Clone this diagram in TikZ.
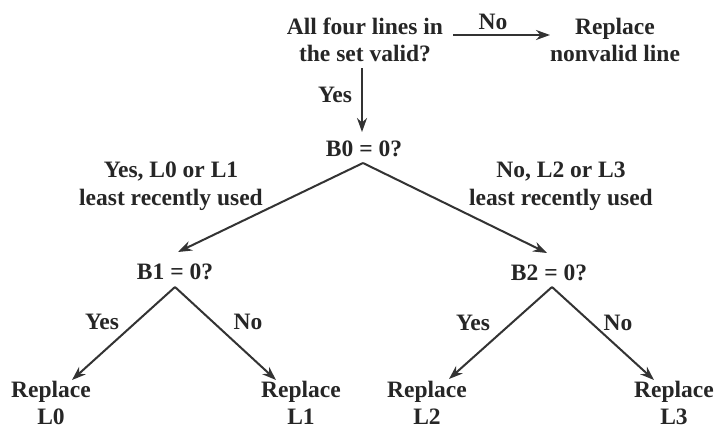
\documentclass[tikz,border=0pt]{standalone}
\usepackage{fontspec}
\setmainfont{Liberation Serif}
\usetikzlibrary{arrows.meta,calc}
\definecolor{ink}{HTML}{262626}
\definecolor{lineink}{HTML}{333333}
\begin{document}
\begin{tikzpicture}[x=1pt,y=-1pt,
  txt/.style={font=\fontsize{23.5}{27.5}\selectfont\bfseries, align=center, inner sep=0pt, text=ink},
  lbl/.style={font=\fontsize{23.5}{27.5}\selectfont\bfseries, inner sep=0pt, text=ink},
  arr/.style={draw=lineink, line width=2pt, -{Stealth[length=14pt,width=10pt]}}]
\fill[white] (0,0) rectangle (717,432);
\useasboundingbox (0,0) rectangle (717,432);
\node[txt] (top) at (365,40) {All four lines in\\the set valid?};
\node[txt] (rep) at (615,40) {Replace\\nonvalid line};
\node[txt] (b0) at (364,149) {B0 = 0?};
\node[txt] (lyes) at (171,186) {Yes, L0 or L1\\least recently used};
\node[txt] (lno) at (561,186) {No, L2 or L3\\least recently used};
\node[txt] (b1) at (175,272) {B1 = 0?};
\node[txt] (b2) at (549,273) {B2 = 0?};
\node[txt] (r0) at (51,403) {Replace\\L0};
\node[txt] (r1) at (301,403) {Replace\\L1};
\node[txt] (r2) at (427,403) {Replace\\L2};
\node[txt] (r3) at (674,403) {Replace\\L3};
\node[lbl] (no0) at (493,22) {No};
\node[lbl] (yes0) at (335,95) {Yes};
\node[lbl] (yes1) at (102,322) {Yes};
\node[lbl] (no1) at (248,322) {No};
\node[lbl] (yes2) at (473,323) {Yes};
\node[lbl] (no2) at (618,323) {No};
\coordinate (a0) at ($(b0)+(-1,14)$);
\coordinate (a1) at ($(b1)+(0,15)$);
\coordinate (a2) at ($(b2)+(3,14)$);
\draw[arr] ($(top)+(88,-5)$) -- ($(rep)+(-65,-5)$);
\draw[arr] ($(top)+(-3,28)$) -- ($(b0)+(-2,-17)$);
\draw[arr] (a0) -- ($(b1)+(3,-20)$);
\draw[arr] (a0) -- ($(b2)+(-2,-20)$);
\draw[arr] (a1) -- ($(r0)+(21,-23)$);
\draw[arr] (a1) -- ($(r1)+(-25,-23)$);
\draw[arr] (a2) -- ($(r2)+(22,-24)$);
\draw[arr] (a2) -- ($(r3)+(-20,-23)$);
\end{tikzpicture}
\end{document}
